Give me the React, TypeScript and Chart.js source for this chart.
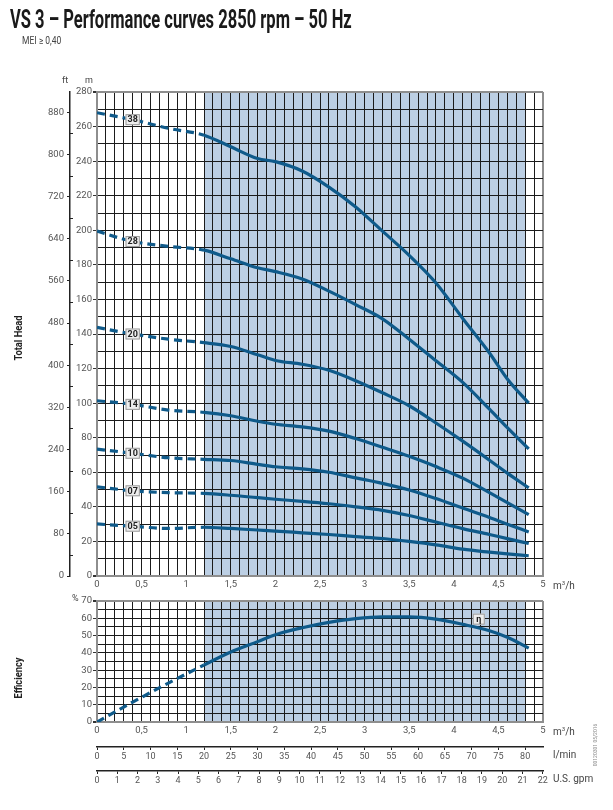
import { useEffect, useRef } from 'react'
import Chart from 'chart.js/auto'

// flow rate, m³/h (common sample points for every curve)
const flow = [0, 0.4, 0.8, 1.2, 1.5, 1.8, 2.0, 2.3, 2.6, 2.9, 3.2, 3.5, 3.8, 4.1, 4.4, 4.6, 4.84]

// total head in m, one array per stage count
const head38 = [268, 264, 259, 255, 248.3, 241.5, 239.7, 234.3, 225, 213.5, 199.5, 185.5, 169.5, 149, 129, 114, 100]
const head28 = [199.5, 193.5, 190.7, 188.5, 183.5, 178.3, 176.1, 171.8, 164.8, 157, 148.8, 137, 124.5, 112, 96.5, 85.8, 73.5]
const head20 = [143.8, 140, 137, 135, 132.8, 128, 124.7, 122.5, 119, 113, 106, 98.5, 88.5, 78, 67, 59.5, 51]
const head14 = [101.4, 99.3, 96, 94.7, 92.7, 89.5, 87.8, 86.3, 83.8, 79.5, 74.5, 69.3, 63.3, 56.6, 48.2, 42.5, 35.5]
const head10 = [73.4, 71, 68.4, 67.5, 66.8, 64.6, 63.2, 62, 60, 56.8, 53.6, 49.8, 44.8, 39.3, 33.9, 30, 25.5]
const head07 = [51.6, 49.3, 48.2, 47.8, 46.7, 45.3, 44.4, 43.2, 41.8, 40, 38, 35, 31.2, 27.4, 24, 21.6, 18.8]
const head05 = [30.1, 28.8, 27.5, 28.2, 27.5, 26.6, 26, 25, 24, 22.8, 21.7, 20, 18, 15.5, 13.8, 12.8, 11.7]

const stageNames = ['38', '28', '20', '14', '10', '07', '05']
const heads = [head38, head28, head20, head14, head10, head07, head05]

// efficiency in %
const efficiency = [0, 11.5, 22.5, 33, 40.5, 46.5, 50.5, 54.5, 57.6, 59.8, 60.8, 60.8, 59.5, 56.5, 52.8, 49, 42.7]

// feet scale ticks (every 40 ft, labelled every 80 ft)
const ftTicks = [0, 40, 80, 120, 160, 200, 240, 280, 320, 360, 400, 440, 480, 520, 560, 600, 640, 680, 720, 760, 800, 840, 880]

// recommended working range, m³/h
const rangeStart = 1.2
const rangeEnd = 4.8
const stageLabelFlow = 0.4
const etaLabelFlow = 4.28
const etaLabelValue = 59.5

const M_TO_FT = 3.28084
const M3H_TO_LMIN = 1000 / 60
const M3H_TO_GPM = 264.172 / 60

const FONT = 'Roboto, "Noto Sans", sans-serif'
const BLUE = '#0f5a8a'
const SHADE = '#bccfe4'
const GRID = '#1b1b1b'
const FRAME = '#8e8e8e'
const TICK_TEXT = '#555'

const fmt = (v: number) => String(Math.round(v * 10) / 10).replace('.', ',')
const isEdge = (ctx: any) => ctx.tick && (ctx.tick.value === ctx.scale.min || ctx.tick.value === ctx.scale.max)

const dashed = {
  borderDash: (ctx: any) => (ctx.p1.parsed.x <= rangeStart + 1e-6 ? [8, 5] : undefined),
}

const shadePlugin = {
  id: 'shade',
  beforeDraw(chart: any) {
    const { ctx, chartArea, scales } = chart
    const x0 = scales.x.getPixelForValue(rangeStart)
    const x1 = scales.x.getPixelForValue(rangeEnd)
    ctx.save()
    ctx.fillStyle = SHADE
    ctx.fillRect(x0, chartArea.top, x1 - x0, chartArea.bottom - chartArea.top)
    ctx.restore()
  },
}

function drawTag(ctx: CanvasRenderingContext2D, text: string, x: number, y: number) {
  ctx.save()
  ctx.font = `bold 9px ${FONT}`
  const w = Math.max(12, ctx.measureText(text).width + 4)
  const h = 11
  ctx.fillStyle = '#eeeeee'
  ctx.strokeStyle = '#9a9a9a'
  ctx.lineWidth = 1
  ctx.fillRect(x - w / 2, y - h / 2, w, h)
  ctx.strokeRect(x - w / 2 + 0.5, y - h / 2 + 0.5, w - 1, h - 1)
  ctx.fillStyle = '#222'
  ctx.textAlign = 'center'
  ctx.textBaseline = 'middle'
  ctx.fillText(text, x, y + 0.5)
  ctx.restore()
}

const stageTagPlugin = {
  id: 'stageTags',
  afterDatasetsDraw(chart: any) {
    const idx = flow.indexOf(stageLabelFlow)
    stageNames.forEach((name, i) => {
      const p = chart.getDatasetMeta(i).data[idx]
      if (p) drawTag(chart.ctx, name, p.x, p.y)
    })
  },
}

// minor feet ticks point inwards (to the right of the feet axis line)
const ftMinorPlugin = {
  id: 'ftMinor',
  afterDraw(chart: any) {
    const s = chart.scales.ft
    const ctx = chart.ctx
    ctx.save()
    ctx.strokeStyle = '#222'
    ctx.lineWidth = 1
    ftTicks.forEach((v) => {
      if (v % 80 === 0) return
      const y = Math.round(s.getPixelForValue(v)) + 0.5
      ctx.beginPath()
      ctx.moveTo(s.right, y)
      ctx.lineTo(s.right + 3, y)
      ctx.stroke()
    })
    ctx.restore()
  },
}

const etaTagPlugin = {
  id: 'etaTag',
  afterDatasetsDraw(chart: any) {
    const { scales } = chart
    drawTag(chart.ctx, 'η', scales.x.getPixelForValue(etaLabelFlow), scales.y.getPixelForValue(etaLabelValue))
  },
}

const tickFont = { family: FONT, size: 9.5 }

function flowAxis(height: number) {
  return {
    type: 'linear',
    position: 'bottom',
    min: 0,
    max: 5,
    weight: 0,
    ticks: {
      stepSize: 0.1,
      autoSkip: false,
      maxRotation: 0,
      color: TICK_TEXT,
      font: tickFont,
      padding: 3,
      callback: (v: any) => (Math.round(v * 10) % 5 === 0 ? fmt(v) : ''),
    },
    grid: {
      color: (ctx: any) => (isEdge(ctx) ? FRAME : GRID),
      lineWidth: (ctx: any) => (isEdge(ctx) ? 2 : 1),
      drawTicks: false,
    },
    border: { display: true, color: FRAME, width: 2 },
    afterFit: (s: any) => {
      s.height = height
    },
  }
}

function unitAxis(max: number, step: number, weight: number, height: number) {
  return {
    type: 'linear',
    position: 'bottom',
    min: 0,
    max,
    weight,
    ticks: {
      stepSize: step,
      includeBounds: false,
      autoSkip: false,
      maxRotation: 0,
      color: TICK_TEXT,
      font: { family: FONT, size: 9 },
      padding: 1,
    },
    grid: { drawOnChartArea: false, tickLength: 3, tickColor: '#222' },
    border: { display: true, color: '#222', width: 1.5 },
    afterFit: (s: any) => {
      s.height = height
    },
  }
}

export default function App() {
  const headRef = useRef<HTMLCanvasElement>(null)
  const effRef = useRef<HTMLCanvasElement>(null)
  const titleRef = useRef<HTMLDivElement>(null)

  useEffect(() => {
    document.body.style.margin = '0'
    const fitTitle = () => {
      const t = titleRef.current
      if (!t) return
      t.style.transform = 'none'
      t.style.transform = `scaleX(${342 / t.offsetWidth})`
    }
    fitTitle()
    document.fonts?.ready.then(fitTitle)
    if (!headRef.current || !effRef.current) return

    const headChart = new Chart(headRef.current, {
      type: 'line',
      data: {
        datasets: heads.map((h, i) => ({
          label: stageNames[i],
          data: flow.map((x, j) => ({ x, y: h[j] })),
          borderColor: BLUE,
          borderWidth: 3.2,
          pointRadius: 0,
          cubicInterpolationMode: 'monotone',
          segment: dashed,
        })),
      },
      options: {
        animation: false,
        responsive: true,
        maintainAspectRatio: false,
        layout: { padding: { left: 30, right: 70, top: 92, bottom: 4 } },
        plugins: { legend: { display: false }, tooltip: { enabled: false } },
        scales: {
          x: flowAxis(20),
          y: {
            type: 'linear',
            position: 'left',
            min: 0,
            max: 280,
            weight: 0,
            ticks: {
              stepSize: 10,
              autoSkip: false,
              color: TICK_TEXT,
              font: tickFont,
              padding: 1,
              callback: (v: any) => (v % 20 === 0 ? String(v) : ''),
            },
            grid: {
              color: (ctx: any) => (isEdge(ctx) ? FRAME : GRID),
              lineWidth: (ctx: any) => (isEdge(ctx) ? 2 : 1),
              tickLength: 4,
              tickColor: (ctx: any) => (ctx.tick && ctx.tick.value % 20 === 0 ? '#333' : 'rgba(0,0,0,0)'),
            },
            border: { display: true, color: FRAME, width: 2 },
            afterFit: (s: any) => {
              s.width = 27
            },
          },
          ft: {
            type: 'linear',
            position: 'left',
            min: 0,
            max: 280 * M_TO_FT,
            weight: 1,
            afterBuildTicks: (s: any) => {
              s.ticks = ftTicks.map((value) => ({ value }))
            },
            ticks: {
              autoSkip: false,
              color: TICK_TEXT,
              font: tickFont,
              padding: 3,
              callback: (v: any) => (v % 80 === 0 ? String(v) : ''),
            },
            grid: {
              drawOnChartArea: false,
              tickLength: 3,
              tickColor: (ctx: any) => (ctx.tick && ctx.tick.value % 80 === 0 ? '#222' : 'rgba(0,0,0,0)'),
            },
            border: { display: true, color: '#222', width: 1.5 },
            afterFit: (s: any) => {
              s.width = 40
            },
          },
        },
      } as any,
      plugins: [shadePlugin, stageTagPlugin, ftMinorPlugin],
    })

    const effChart = new Chart(effRef.current, {
      type: 'line',
      data: {
        datasets: [
          {
            label: 'η',
            data: flow.map((x, j) => ({ x, y: efficiency[j] })),
            borderColor: BLUE,
            borderWidth: 3.2,
            pointRadius: 0,
            cubicInterpolationMode: 'monotone',
            segment: dashed,
          },
        ],
      },
      options: {
        animation: false,
        responsive: true,
        maintainAspectRatio: false,
        layout: { padding: { left: 0, right: 70, top: 11, bottom: 19 } },
        plugins: { legend: { display: false }, tooltip: { enabled: false } },
        scales: {
          x: flowAxis(25),
          lmin: unitAxis(5 * M3H_TO_LMIN, 5, 1, 24),
          gpm: unitAxis(5 * M3H_TO_GPM, 1, 2, 20),
          y: {
            type: 'linear',
            position: 'left',
            min: 0,
            max: 70,
            ticks: {
              stepSize: 5,
              autoSkip: false,
              color: TICK_TEXT,
              font: tickFont,
              padding: 1,
              callback: (v: any) => (v % 10 === 0 ? String(v) : ''),
            },
            grid: {
              color: (ctx: any) => (isEdge(ctx) ? FRAME : GRID),
              lineWidth: (ctx: any) => (isEdge(ctx) ? 2 : 1),
              tickLength: 4,
              tickColor: (ctx: any) => (ctx.tick && ctx.tick.value % 10 === 0 ? '#333' : 'rgba(0,0,0,0)'),
            },
            border: { display: true, color: FRAME, width: 2 },
            afterFit: (s: any) => {
              s.width = 97
            },
          },
        },
      } as any,
      plugins: [shadePlugin, etaTagPlugin],
    })

    return () => {
      headChart.destroy()
      effChart.destroy()
    }
  }, [])

  const small: React.CSSProperties = { position: 'absolute', fontFamily: FONT, fontSize: 10, color: '#444', whiteSpace: 'nowrap', lineHeight: 1 }
  const axisTitle: React.CSSProperties = {
    position: 'absolute',
    fontFamily: FONT,
    fontSize: 11,
    fontWeight: 'bold',
    color: '#222',
    whiteSpace: 'nowrap',
    lineHeight: 1,
    transform: 'translate(-50%, -50%) rotate(-90deg) scaleX(0.85)',
  }

  return (
    <div style={{ position: 'relative', width: 613, height: 810, background: '#fff', overflow: 'hidden' }}>
      <div style={{ position: 'absolute', left: 0, top: 0, width: 613, height: 600 }}>
        <canvas ref={headRef} />
      </div>
      <div style={{ position: 'absolute', left: 0, top: 590, width: 613, height: 220 }}>
        <canvas ref={effRef} />
      </div>

      <div
        ref={titleRef}
        style={{
          position: 'absolute',
          left: 10,
          top: 7,
          fontFamily: FONT,
          fontWeight: 'bold',
          fontSize: 25,
          color: '#1a1a1a',
          whiteSpace: 'nowrap',
          lineHeight: 1,
          transformOrigin: 'left top',
        }}
      >
        VS 3 – Performance curves 2850 rpm – 50 Hz
      </div>
      <div style={{ ...small, left: 22, top: 36, fontSize: 10, transform: 'scaleX(0.85)', transformOrigin: 'left top' }}>MEI ≥ 0,40</div>

      <div style={{ ...small, left: 62, top: 76, fontSize: 9 }}>ft</div>
      <div style={{ ...small, left: 85, top: 76, fontSize: 9 }}>m</div>
      <div style={{ ...small, left: 72, top: 594, fontSize: 9 }}>%</div>

      <div style={{ ...axisTitle, left: 18, top: 338 }}>Total Head</div>
      <div style={{ ...axisTitle, left: 18, top: 678 }}>Efficiency</div>

      <div style={{ ...small, left: 553, top: 580 }}>
        m<sup style={{ fontSize: 6 }}>3</sup>/h
      </div>
      <div style={{ ...small, left: 553, top: 726 }}>
        m<sup style={{ fontSize: 6 }}>3</sup>/h
      </div>
      <div style={{ ...small, left: 553, top: 750 }}>l/min</div>
      <div style={{ ...small, left: 553, top: 774 }}>U.S. gpm</div>

      <div style={{ ...small, left: 595, top: 745, fontSize: 5, color: '#888', transform: 'translate(-50%, -50%) rotate(-90deg)' }}>
        00120301 05/2016
      </div>
    </div>
  )
}
